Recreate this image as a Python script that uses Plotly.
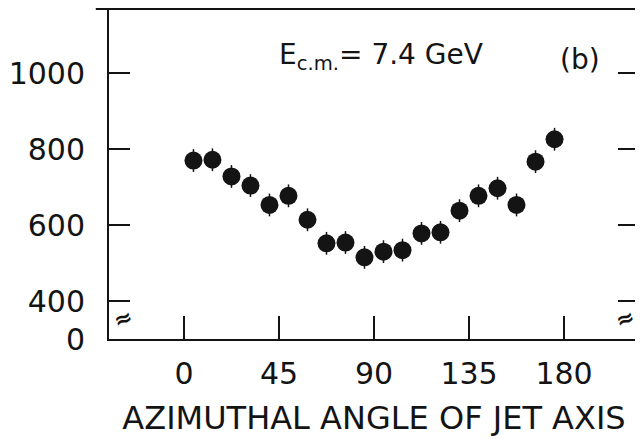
"""Azimuthal angle of jet axis, E_cm = 7.4 GeV, panel (b)."""
import plotly.graph_objects as go

# bin centres (degrees) and counts
angle_deg = [4.5, 13.5, 22.5, 31.5, 40.5, 49.5, 58.5, 67.5, 76.5, 85.5,
             94.5, 103.5, 112.5, 121.5, 130.5, 139.5, 148.5, 157.5, 166.5, 175.5]
counts = [770, 772, 728, 704, 653, 677, 614, 552, 554, 515,
          530, 534, 578, 581, 638, 677, 697, 653, 767, 826]
errors = [30] * len(counts)

x_ticks = [0, 45, 90, 135, 180]
y_ticks = [300, 400, 600, 800, 1000]
y_tick_text = ["0", "400", "600", "800", "1000"]

INK = "#141414"
FONT = "DejaVu Sans"

fig = go.Figure()
fig.add_trace(go.Scatter(
    x=angle_deg, y=counts, mode="markers",
    marker=dict(color=INK, size=18, line=dict(width=0)),
    error_y=dict(type="data", array=errors, visible=True,
                 color=INK, thickness=1.5, width=0),
    showlegend=False,
))

axis_common = dict(showgrid=False, zeroline=False, showline=True,
                   linecolor=INK, linewidth=2, ticks="inside",
                   tickcolor=INK, tickwidth=2,
                   tickfont=dict(family=FONT, size=30, color=INK))

fig.update_xaxes(range=[-35.5, 215.5], tickvals=x_ticks, ticklen=23,
                 mirror=True, ticklabelstandoff=7,
                 title=dict(text="AZIMUTHAL ANGLE OF JET AXIS", standoff=17,
                            font=dict(family=FONT, size=32, color=INK)),
                 **axis_common)
fig.update_yaxes(range=[300, 1169], tickvals=y_ticks, ticktext=y_tick_text,
                 ticklen=21, mirror="ticks", ticklabelstandoff=16,
                 **axis_common)

# top frame line runs a little past the left axis
fig.add_shape(type="line", xref="paper", yref="paper", x0=-0.025, x1=1.0,
              y0=1, y1=1, line=dict(color=INK, width=2))

# axis-break marks on both vertical axes
for xp in (0, 1):
    fig.add_annotation(x=xp, y=353, xref="paper", yref="y", text="<b>≈</b>",
                       showarrow=False, bgcolor="white", borderpad=0,
                       textangle=-20,
                       font=dict(family=FONT, size=22, color=INK))

fig.add_annotation(x=0.317, y=0.855, xref="paper", yref="paper",
                   xanchor="left", yanchor="middle", showarrow=False,
                   text="E<sub>c.m.</sub>= 7.4 GeV",
                   font=dict(family=FONT, size=28, color=INK))
fig.add_annotation(x=0.847, y=0.848, xref="paper", yref="paper",
                   xanchor="left", yanchor="middle", showarrow=False,
                   text="(b)", font=dict(family=FONT, size=28, color=INK))

# the page body adds an 8px margin, so the figure is drawn 8px smaller
fig.update_layout(width=635, height=431, paper_bgcolor="white",
                  plot_bgcolor="white",
                  margin=dict(l=101, r=4, t=1, b=100, autoexpand=False))

fig.write_html("out.html")
